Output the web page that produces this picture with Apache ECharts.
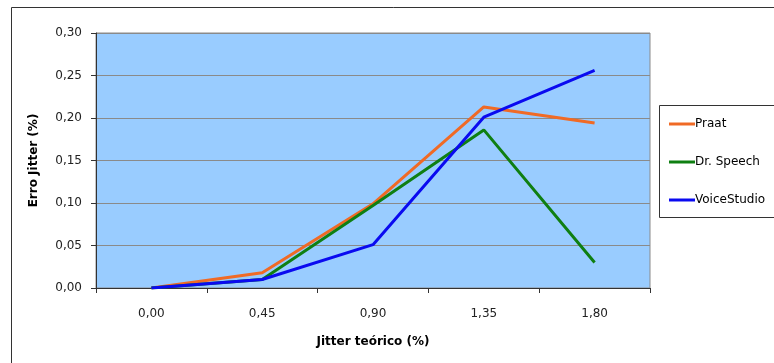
<!DOCTYPE html>
<html>
<head>
<meta charset="utf-8">
<script src="https://cdn.jsdelivr.net/npm/echarts@6/dist/echarts.min.js"></script>
<style>
  html, body { margin: 0; padding: 0; background: #fff; }
  #chart { width: 774px; height: 363px; }
</style>
</head>
<body>
<div id="chart"></div>
<script>
  // valores
  const categories = ['0,00', '0,45', '0,90', '1,35', '1,80'];
  const praat = [0, 0.018, 0.099, 0.213, 0.194];
  const drSpeech = [0, 0.010, 0.097, 0.186, 0.030];
  const voiceStudio = [0, 0.010, 0.051, 0.201, 0.256];
  const seriesNames = ['Praat', 'Dr. Speech', 'VoiceStudio'];
  const colors = ['#F06A25', '#0F7F12', '#0A0AF0'];

  const font = 'DejaVu Sans';
  const chart = echarts.init(document.getElementById('chart'));

  const lineSeries = [praat, drSpeech, voiceStudio].map((d, i) => ({
    name: seriesNames[i],
    type: 'line',
    data: d,
    symbol: 'none',
    color: colors[i],
    lineStyle: { width: 3, color: colors[i] },
    animation: false
  }));

  chart.setOption({
    animation: false,
    textStyle: { fontFamily: font },
    graphic: [
      { // moldura externa
        type: 'rect',
        shape: { x: 11.5, y: 7.5, width: 800, height: 400 },
        style: { fill: 'none', stroke: '#333', lineWidth: 1 },
        z: -10
      },
      { // caixa da legenda
        type: 'rect',
        shape: { x: 659.5, y: 105.5, width: 200, height: 112 },
        style: { fill: '#fff', stroke: '#333', lineWidth: 1 },
        z: 0
      }
    ],
    grid: {
      left: 96,
      right: 124,
      top: 33,
      bottom: 75,
      show: true,
      backgroundColor: '#99CCFF',
      borderColor: '#8a8a8a',
      borderWidth: 1
    },
    legend: {
      orient: 'vertical',
      left: 664,
      top: 113,
      itemGap: 26,
      itemWidth: 26,
      itemHeight: 3,
      icon: 'rect',
      textStyle: { fontFamily: font, fontSize: 12, color: '#000', padding: [0, 0, 0, -5] },
      data: seriesNames
    },
    xAxis: {
      type: 'category',
      data: categories,
      boundaryGap: true,
      name: 'Jitter teórico (%)',
      nameLocation: 'middle',
      nameGap: 48,
      nameTextStyle: { fontFamily: font, fontSize: 12, fontWeight: 'bold', color: '#000' },
      axisLine: { lineStyle: { color: '#333', width: 1 } },
      axisTick: { show: true, length: 5, lineStyle: { color: '#333' } },
      axisLabel: { fontFamily: font, fontSize: 12, color: '#222', margin: 20 },
      splitLine: { show: false }
    },
    yAxis: {
      type: 'value',
      min: 0,
      max: 0.3,
      interval: 0.05,
      name: 'Erro Jitter (%)',
      nameLocation: 'middle',
      nameGap: 56,
      nameTextStyle: { fontFamily: font, fontSize: 12, fontWeight: 'bold', color: '#000' },
      axisLine: { show: true, lineStyle: { color: '#333', width: 1 } },
      axisTick: { show: true, length: 5, lineStyle: { color: '#333' } },
      axisLabel: {
        fontFamily: font, fontSize: 12, color: '#222', margin: 14,
        formatter: v => v.toFixed(2).replace('.', ',')
      },
      splitLine: { show: true, lineStyle: { color: '#8a8a8a', width: 1 } }
    },
    series: lineSeries
  });
</script>
</body>
</html>
